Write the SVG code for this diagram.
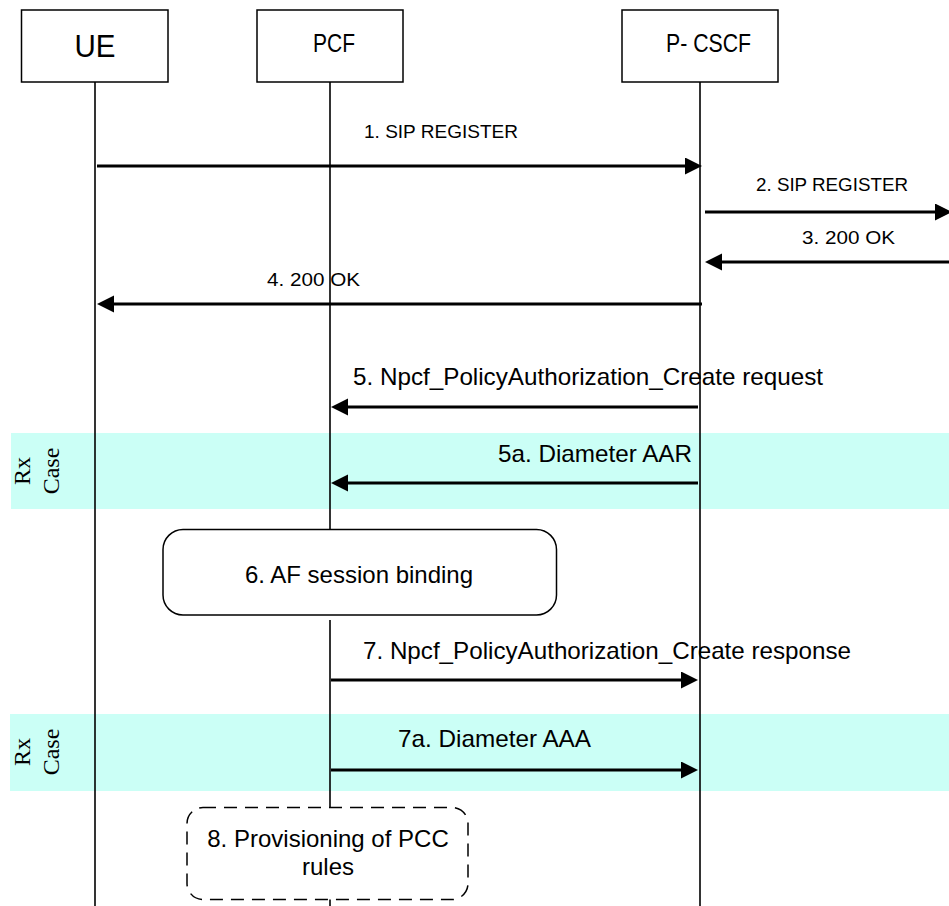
<svg xmlns="http://www.w3.org/2000/svg" width="949" height="906" viewBox="0 0 949 906">
<style>
.box{fill:#fff;stroke:#000;stroke-width:1.5}
.life{stroke:#000;stroke-width:1.6;fill:none}
.msg{stroke:#000;stroke-width:3.2;fill:none;marker-end:url(#ah)}
.band{fill:#CBFFF6}
.hdr{font-family:"Liberation Sans",Arial,sans-serif;fill:#000}
.cal{font-family:"Liberation Sans",Arial,sans-serif;font-size:19px;fill:#000}
.ar{font-family:"Liberation Sans",Arial,sans-serif;font-size:24px;fill:#000}
.rx{font-family:"Liberation Serif","Times New Roman",serif;font-size:24px;fill:#000}
.rbox{fill:#fff;stroke:#000;stroke-width:1.5}
.dbox{fill:#fff;stroke:#000;stroke-width:1.5;stroke-dasharray:13 8}
</style>
<defs>
<marker id="ah" markerUnits="userSpaceOnUse" markerWidth="18" markerHeight="18" refX="0" refY="8.5" orient="auto">
<path d="M0,0 L17,8.5 L0,17 z" fill="#000"/>
</marker>
</defs>

<g id="bands">
<rect class="band" x="11" y="433" width="938" height="76"/>
<rect class="band" x="10" y="714" width="939" height="77"/>
<text class="rx" transform="translate(30,471) rotate(-90)" text-anchor="middle">Rx</text>
<text class="rx" transform="translate(59,471) rotate(-90)" text-anchor="middle">Case</text>
<text class="rx" transform="translate(30,752) rotate(-90)" text-anchor="middle">Rx</text>
<text class="rx" transform="translate(59,752) rotate(-90)" text-anchor="middle">Case</text>
</g>

<g id="lifelines">
<line class="life" x1="95" y1="82" x2="95" y2="906"/>
<line class="life" x1="330" y1="82" x2="330" y2="529"/>
<line class="life" x1="330" y1="620" x2="330" y2="807"/>
<line class="life" x1="330" y1="899" x2="330" y2="906"/>
<line class="life" x1="700" y1="82" x2="700" y2="906"/>
</g>

<g id="node-ue">
<rect class="box" x="21.5" y="10" width="146.5" height="72"/>
<text class="hdr" x="95" y="57" font-size="32" text-anchor="middle" textLength="41" lengthAdjust="spacingAndGlyphs">UE</text>
</g>
<g id="node-pcf">
<rect class="box" x="257" y="10" width="146" height="72"/>
<text class="hdr" x="313" y="52" font-size="25" textLength="42" lengthAdjust="spacingAndGlyphs">PCF</text>
</g>
<g id="node-pcscf">
<rect class="box" x="622" y="10" width="156" height="72"/>
<text class="hdr" x="666" y="52" font-size="25" textLength="85" lengthAdjust="spacingAndGlyphs">P- CSCF</text>
</g>

<g id="connectors">
<line class="msg" x1="97" y1="166" x2="685" y2="166"/>
<line class="msg" x1="705" y1="212" x2="935" y2="212"/>
<line class="msg" x1="949" y1="262" x2="722" y2="262"/>
<line class="msg" x1="702" y1="304" x2="114" y2="304"/>
<line class="msg" x1="698" y1="407" x2="348" y2="407"/>
<line class="msg" x1="698" y1="483" x2="348" y2="483"/>
<line class="msg" x1="331" y1="680" x2="681" y2="680"/>
<line class="msg" x1="331" y1="770" x2="681" y2="770"/>
</g>

<g id="labels">
<text class="cal" x="364" y="138" textLength="154" lengthAdjust="spacingAndGlyphs">1. SIP REGISTER</text>
<text class="cal" x="756" y="191" textLength="152" lengthAdjust="spacingAndGlyphs">2. SIP REGISTER</text>
<text class="cal" x="802" y="244" textLength="93" lengthAdjust="spacingAndGlyphs">3. 200 OK</text>
<text class="cal" x="267" y="286" textLength="93" lengthAdjust="spacingAndGlyphs">4. 200 OK</text>
<text class="ar" x="353" y="385" textLength="470" lengthAdjust="spacingAndGlyphs">5. Npcf_PolicyAuthorization_Create request</text>
<text class="ar" x="498" y="462" textLength="194" lengthAdjust="spacingAndGlyphs">5a. Diameter AAR</text>
<text class="ar" x="363" y="659" textLength="488" lengthAdjust="spacingAndGlyphs">7. Npcf_PolicyAuthorization_Create response</text>
<text class="ar" x="398" y="747" textLength="193" lengthAdjust="spacingAndGlyphs">7a. Diameter AAA</text>
</g>

<g id="node-binding">
<rect class="rbox" x="163" y="529.5" width="393.5" height="85.5" rx="20" ry="20"/>
<text class="ar" x="359" y="583" text-anchor="middle">6. AF session binding</text>
</g>

<g id="node-provisioning">
<rect class="dbox" x="187" y="807.5" width="281" height="92" rx="16" ry="16"/>
<text class="ar" x="328" y="847" text-anchor="middle">8. Provisioning of PCC</text>
<text class="ar" x="328" y="875" text-anchor="middle">rules</text>
</g>
</svg>
